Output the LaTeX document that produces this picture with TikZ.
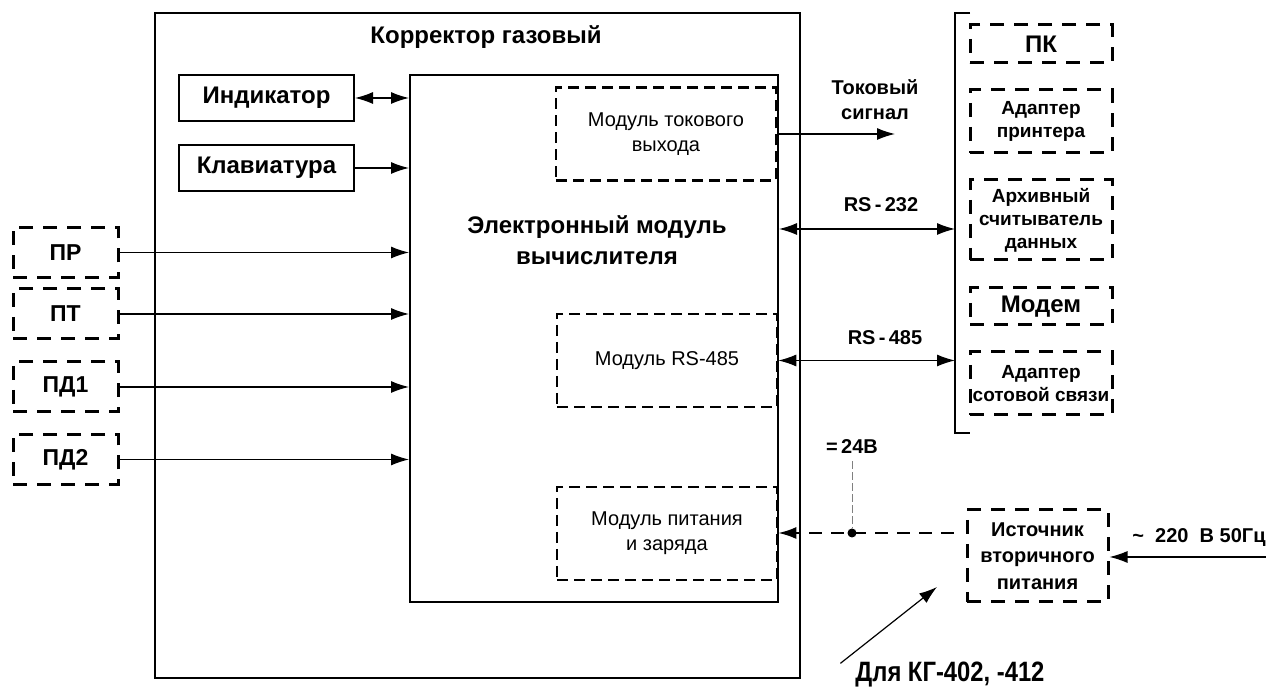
\documentclass[tikz,border=0pt]{standalone}
\usepackage{fontspec}
\setmainfont{Liberation Sans}
\newfontfamily\narrowfont[FakeStretch=0.85]{Liberation Sans}
\usetikzlibrary{arrows.meta}
\tikzset{
  frame/.style={draw, line width=1pt, inner sep=0pt},
  blk/.style={frame, minimum width=87.5pt, minimum height=23pt, font=\bfseries\fontsize{12}{14}\selectfont},
  dev/.style={draw, line width=1.5pt, dash pattern=on 7pt off 5pt, inner sep=0pt, align=center, minimum width=71pt, font=\bfseries\fontsize{9.5}{11.5}\selectfont},
  sens/.style={dev, minimum width=52.5pt, minimum height=25pt, font=\bfseries\fontsize{11.5}{14}\selectfont},
  modl/.style={draw, line width=1.3pt, dash pattern=on 5.5pt off 3pt, inner sep=0pt, minimum width=110pt, minimum height=46.5pt, align=center, font=\fontsize{10}{12.5}\selectfont},
  hdr/.style={align=center, font=\bfseries\fontsize{12}{15.5}\selectfont},
  lbl/.style={align=center, font=\bfseries\fontsize{10}{12.5}\selectfont},
  link/.style={line width=0.6pt},
}
\begin{document}
\begin{tikzpicture}[x=0.5pt, y=-0.5pt, >={Latex[length=9pt,width=6pt]}]
\useasboundingbox (0,0) rectangle (1266,688);
% corrector and calculator
\node[frame, minimum width=322.5pt, minimum height=332.5pt] (corr) at (477.5,345.5) {};
\node[hdr] (corrlbl) at (486,37) {Корректор газовый};
\node[frame, minimum width=184pt, minimum height=263.5pt] (evm) at (594,338.5) {};
\node[hdr] (evmlbl) at (597,240) {Электронный модуль\\вычислителя};
\node[blk] (ind) at (266.5,98) {Индикатор};
\node[blk] (kbd) at (266.5,168) {Клавиатура};
\node[modl] (iout) at (666,134) {Модуль токового\\выхода};
\node[modl] (rs485) at (667,360.5) {Модуль RS-485};
\node[modl] (pwr) at (667,533.5) {Модуль питания\\и заряда};
% sensors
\node[sens] (pr) at (65.5,252.5) {ПР};
\node[sens] (pt) at (65.5,314) {ПТ};
\node[sens] (pd1) at (65.5,387) {ПД1};
\node[sens] (pd2) at (65.5,459.5) {ПД2};
\foreach \s in {pr,pt,pd1,pd2}
  \draw[link,->] (\s.east) -- (\s.east -| evm.west);
\draw[link,<->] (ind.east) -- (ind.east -| evm.west);
\draw[link,->] (kbd.east) -- (kbd.east -| evm.west);
% outside devices
\coordinate (brtop) at (955,13);
\coordinate (brbot) at (955,433);
\draw[link] ([xshift=7.5pt]brtop) -- (brtop) -- (brbot) -- ([xshift=7.5pt]brbot);
\node[dev, minimum height=19pt, font=\bfseries\fontsize{12}{14}\selectfont] (pc) at (1041,44) {ПК};
\node[dev, minimum height=31.5pt] (prn) at (1041,121.5) {Адаптер\\принтера};
\node[dev, minimum height=40pt] (arch) at (1041,220) {Архивный\\считыватель\\данных};
\node[dev, minimum height=18.5pt, font=\bfseries\fontsize{12}{14}\selectfont] (modem) at (1041,306.5) {Модем};
\node[dev, minimum height=31.5pt] (gsm) at (1041,383.5) {Адаптер\\сотовой связи};
\coordinate (isig) at (895,134);
\draw[link,->] (iout.east) -- (isig);
\node[lbl] (isiglbl) at (875,100) {Токовый\\сигнал};
\coordinate (r232) at (955,229);
\draw[link,<->] (r232 -| evm.east) -- (r232);
\node[lbl] (r232lbl) at (881,205) {RS\,-\,232};
\draw[link,<->] (rs485.east) -- (rs485.east -| brtop);
\node[lbl] (r485lbl) at (885,338) {RS\,-\,485};
% power
\node[dev, minimum width=70.5pt, minimum height=46pt, font=\bfseries\fontsize{10}{13.2}\selectfont] (ips) at (1037.5,556) {Источник\\вторичного\\питания};
\node[circle, fill, inner sep=0pt, minimum size=4.5pt] (tap) at (852,533) {};
\draw[line width=1pt, dash pattern=on 6.5pt off 4.5pt, ->, shorten <=6pt] (ips.west |- tap) -- (pwr.east |- tap);
\node[lbl] (v24) at (852,447) {=\,24В};
\draw[gray, line width=0.4pt, dash pattern=on 4pt off 1.5pt] (v24.south) -- (tap);
\coordinate (mains) at (1266,557);
\draw[link,->] (mains) -- (mains -| ips.east);
\node[lbl] (mainslbl) at (1199,538) {\textasciitilde\ \ 220\ \ В 50Гц};
\node[font=\narrowfont\bfseries\fontsize{14}{16}\selectfont] (note) at (950,675) {Для КГ-402, -412};
\coordinate (notetip) at (937,587);
\draw[link,->] ([xshift=-4pt,yshift=-4pt]note.north west) -- (notetip);
\end{tikzpicture}
\end{document}
